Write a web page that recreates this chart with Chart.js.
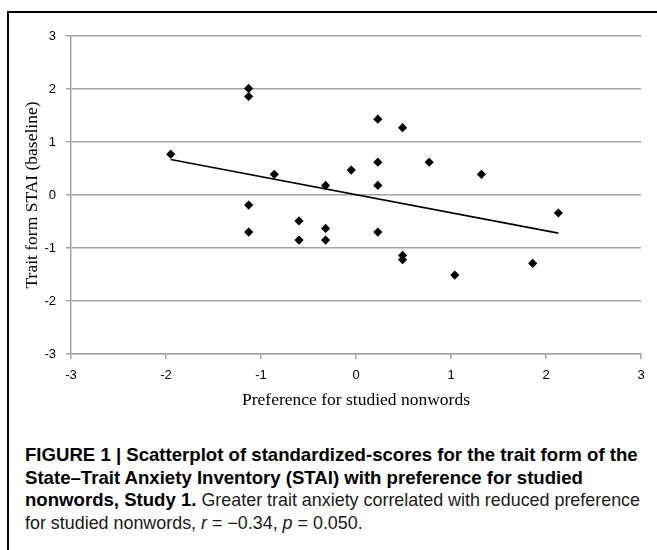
<!DOCTYPE html>
<html>
<head>
<meta charset="utf-8">
<script src="https://cdn.jsdelivr.net/npm/chart.js@4/dist/chart.umd.min.js"></script>
<style>
    html, body { margin: 0; padding: 0; background: #fff; }
    #page { position: relative; width: 657px; height: 550px; overflow: hidden; }
    #frame { position: absolute; left: 7px; top: 11px; right: -4px; bottom: -4px;
             border-top: 2px solid #000; border-left: 2px solid #000; }
    #chart-box { position: absolute; left: 0; top: 0; width: 657px; height: 420px; }
    #caption { position: absolute; left: 25px; top: 444px; white-space: nowrap;
               font-family: 'Liberation Sans', Arial, sans-serif; font-size: 17.9px;
               line-height: 22.5px; color: #1a1a1a; }
    #caption b { font-weight: bold; font-size: 18.6px; color: #000; }
</style>
</head>
<body>
<div id="page">
    <div id="frame"></div>
    <div id="chart-box"><canvas id="scatter-chart"></canvas></div>
    <div id="caption">
        <b>FIGURE 1 | Scatterplot of standardized-scores for the trait form of the</b><br>
        <b>State–Trait Anxiety Inventory (STAI) with preference for studied</b><br>
        <b>nonwords, Study 1.</b> Greater trait anxiety correlated with reduced preference<br>
        for studied nonwords, <i>r</i> = −0.34, <i>p</i> = 0.050.
    </div>
</div>
<script>
// preference for studied nonwords (x) and trait STAI (y), standardized
const preference = [-1.95, -1.13, -1.13, -1.13, -1.13, -0.86, -0.60, -0.60, -0.32, -0.32, -0.32, -0.05,
                    0.23, 0.23, 0.23, 0.23, 0.49, 0.49, 0.49, 0.77, 1.04, 1.32, 1.86, 2.13];
const traitStai = [0.77, 2.01, 1.86, -0.19, -0.70, 0.39, -0.49, -0.85, 0.18, -0.63, -0.85, 0.47,
                   1.43, 0.62, 0.18, -0.70, 1.27, -1.14, -1.22, 0.62, -1.51, 0.39, -1.29, -0.34];

// fitted trend line ends
const trendX = [-1.95, 2.13];
const trendY = [0.67, -0.72];

const xTicks = [-3, -2, -1, 0, 1, 2, 3];
const yTicks = [-3, -2, -1, 0, 1, 2, 3];

const axisGray = '#a3a3a3';

const points = preference.map((x, i) => ({ x, y: traitStai[i] }));
const trend = trendX.map((x, i) => ({ x, y: trendY[i] }));

const useTicks = (values) => (scale) => {
    scale.ticks = values.map((value) => ({ value }));
};

new Chart(document.getElementById('scatter-chart'), {
    type: 'scatter',
    data: {
        datasets: [
            {
                data: points,
                pointStyle: 'rectRot',
                pointRadius: 4.6,
                backgroundColor: '#000',
                borderColor: '#000',
                borderWidth: 0,
            },
            {
                data: trend,
                showLine: true,
                borderColor: '#000',
                borderWidth: 1.6,
                pointRadius: 0,
            },
        ],
    },
    options: {
        responsive: true,
        maintainAspectRatio: false,
        animation: false,
        layout: {
            padding: { top: 36, right: 16, left: 0, bottom: 0 },
        },
        plugins: {
            legend: { display: false },
            tooltip: { enabled: false },
        },
        scales: {
            x: {
                type: 'linear',
                min: -3,
                max: 3,
                afterBuildTicks: useTicks(xTicks),
                afterFit: (scale) => { scale.height = 66; },
                grid: {
                    drawOnChartArea: false,
                    color: axisGray,
                    lineWidth: 1.5,
                    tickLength: 5,
                },
                border: { color: axisGray, width: 1.5 },
                ticks: {
                    padding: 9,
                    color: '#000',
                    maxRotation: 0,
                    font: { family: 'Liberation Sans', size: 13 },
                },
                title: {
                    display: true,
                    text: 'Preference for studied nonwords',
                    color: '#000',
                    padding: { top: 0, bottom: 9 },
                    font: { family: 'Liberation Serif', size: 17.5 },
                },
            },
            y: {
                type: 'linear',
                min: -3,
                max: 3,
                afterBuildTicks: useTicks(yTicks),
                afterFit: (scale) => { scale.width = 71; },
                grid: {
                    color: axisGray,
                    lineWidth: 1.5,
                    tickLength: 5,
                },
                border: { color: axisGray, width: 1.5 },
                ticks: {
                    padding: 10,
                    color: '#000',
                    font: { family: 'Liberation Sans', size: 13 },
                },
                title: {
                    display: true,
                    text: 'Trait form STAI (baseline)',
                    color: '#000',
                    padding: { top: 22, bottom: 0 },
                    font: { family: 'Liberation Serif', size: 17.5 },
                },
            },
        },
    },
});
</script>
</body>
</html>
